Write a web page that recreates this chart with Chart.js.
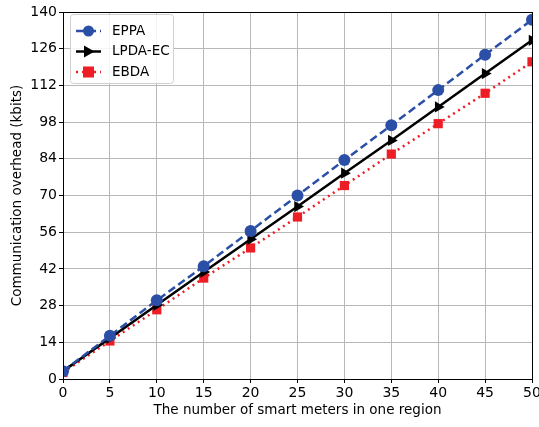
<!DOCTYPE html>
<html>
<head>
<style>
  html, body { margin: 0; padding: 0; background: #fff; }
  #wrap { width: 539px; height: 427px; }
</style>
</head>
<body>
<div id="wrap">
  <canvas id="overhead" width="539" height="427"></canvas>
</div>

<script src="https://cdn.jsdelivr.net/npm/chart.js"></script>

<script>
  const meters = [0, 5, 10, 15, 20, 25, 30, 35, 40, 45, 50];
  const eppa = [3, 16.5, 30, 43, 56.5, 70, 83.5, 96.8, 110.2, 123.7, 137];
  const lpdaEc = [3, 15.6, 28.2, 40.8, 53.3, 65.8, 78.5, 91, 103.8, 116.5, 129.2];
  const ebda = [2.5, 14.5, 26.4, 38.5, 50, 61.8, 73.8, 85.8, 97.4, 109, 121];
  const yTicks = [0, 14, 28, 42, 56, 70, 84, 98, 112, 126, 140];

  const pts = arr => arr.map((v, i) => ({ x: meters[i], y: v }));

  const frameAndLegend = {
    id: 'frameAndLegend',
    afterDraw(chart) {
      const c = chart.ctx;
      const a = chart.chartArea;
      c.save();
      c.strokeStyle = '#000';
      c.lineWidth = 1;
      c.strokeRect(Math.round(a.left) + 0.5, Math.round(a.top) + 0.5,
        Math.round(a.right - a.left), Math.round(a.bottom - a.top));

      // legend box in the upper-left corner
      const bx = a.left + 7, by = a.top + 2, bw = 103, bh = 69;
      c.fillStyle = 'rgba(255,255,255,0.85)';
      c.strokeStyle = '#d0d0d0';
      c.beginPath();
      c.roundRect(bx + 0.5, by + 0.5, bw, bh, 3);
      c.fill();
      c.stroke();

      c.font = '13.5px "DejaVu Sans"';
      c.textBaseline = 'middle';
      chart.data.datasets.forEach((ds, i) => {
        const ly = by + 17 + i * 20.5;
        const x0 = bx + 6, x1 = bx + 31;
        c.strokeStyle = ds.borderColor;
        c.lineWidth = ds.borderWidth;
        c.setLineDash(ds.borderDash || []);
        c.beginPath();
        c.moveTo(x0, ly);
        c.lineTo(x1, ly);
        c.stroke();
        c.setLineDash([]);
        c.fillStyle = ds.pointBackgroundColor;
        const mx = (x0 + x1) / 2;
        if (ds.pointStyle === 'circle') {
          c.beginPath();
          c.arc(mx, ly, 5.5, 0, Math.PI * 2);
          c.fill();
        } else if (ds.pointStyle === 'rect') {
          c.fillRect(mx - 5.5, ly - 5.5, 11, 11);
        } else {
          c.beginPath();
          c.moveTo(mx + 6, ly);
          c.lineTo(mx - 4.5, ly - 6);
          c.lineTo(mx - 4.5, ly + 6);
          c.closePath();
          c.fill();
        }
        c.fillStyle = '#000';
        c.fillText(ds.label, bx + 42, ly);
      });
      c.restore();
    }
  };

  new Chart(document.getElementById('overhead'), {
    type: 'line',
    data: {
      datasets: [
        {
          label: 'EPPA',
          data: pts(eppa),
          borderColor: '#2b4fa6',
          backgroundColor: '#2b4fa6',
          pointBackgroundColor: '#2b4fa6',
          borderWidth: 2.5,
          borderDash: [8, 4],
          pointStyle: 'circle',
          pointRadius: 6,
          pointBorderWidth: 0
        },
        {
          label: 'LPDA-EC',
          data: pts(lpdaEc),
          borderColor: '#000',
          backgroundColor: '#000',
          pointBackgroundColor: '#000',
          borderWidth: 2.5,
          pointStyle: 'triangle',
          rotation: 90,
          pointRadius: 6.5,
          pointBorderWidth: 0
        },
        {
          label: 'EBDA',
          data: pts(ebda),
          borderColor: '#ee1d25',
          backgroundColor: '#ee1d25',
          pointBackgroundColor: '#ee1d25',
          borderWidth: 2.5,
          borderDash: [2, 4],
          pointStyle: 'rect',
          pointRadius: 6.5,
          pointBorderWidth: 0
        }
      ]
    },
    options: {
      responsive: false,
      animation: false,
      layout: { padding: { top: 12, right: 0, left: 0, bottom: 8 } },
      plugins: {
        legend: { display: false },
        tooltip: { enabled: false }
      },
      scales: {
        x: {
          type: 'linear',
          min: 0,
          max: 50,
          afterBuildTicks: s => { s.ticks = meters.map(v => ({ value: v })); },
          afterFit: s => { s.height = 40; s.paddingRight = 7; s.paddingLeft = 0; },
          grid: { color: '#b8b8b8', lineWidth: 1, tickColor: '#000', tickLength: 4 },
          border: { color: '#000', width: 1 },
          ticks: { color: '#000', font: { family: 'DejaVu Sans', size: 14 }, padding: 2, maxRotation: 0 },
          title: {
            display: true,
            text: 'The number of smart meters in one region',
            color: '#000',
            font: { family: 'DejaVu Sans', size: 13.5 },
            padding: { top: 0, bottom: 0 }
          }
        },
        y: {
          min: 0,
          max: 140,
          afterBuildTicks: s => { s.ticks = yTicks.map(v => ({ value: v })); },
          afterFit: s => { s.width = 63; },
          grid: { color: '#b8b8b8', lineWidth: 1, tickColor: '#000', tickLength: 4 },
          border: { color: '#000', width: 1 },
          ticks: { color: '#000', font: { family: 'DejaVu Sans', size: 14 }, padding: 2 },
          title: {
            display: true,
            text: 'Communication overhead (kbits)',
            color: '#000',
            font: { family: 'DejaVu Sans', size: 13.5 },
            padding: { top: 9, bottom: 0 }
          }
        }
      }
    },
    plugins: [frameAndLegend]
  });
</script>
</body>
</html>
